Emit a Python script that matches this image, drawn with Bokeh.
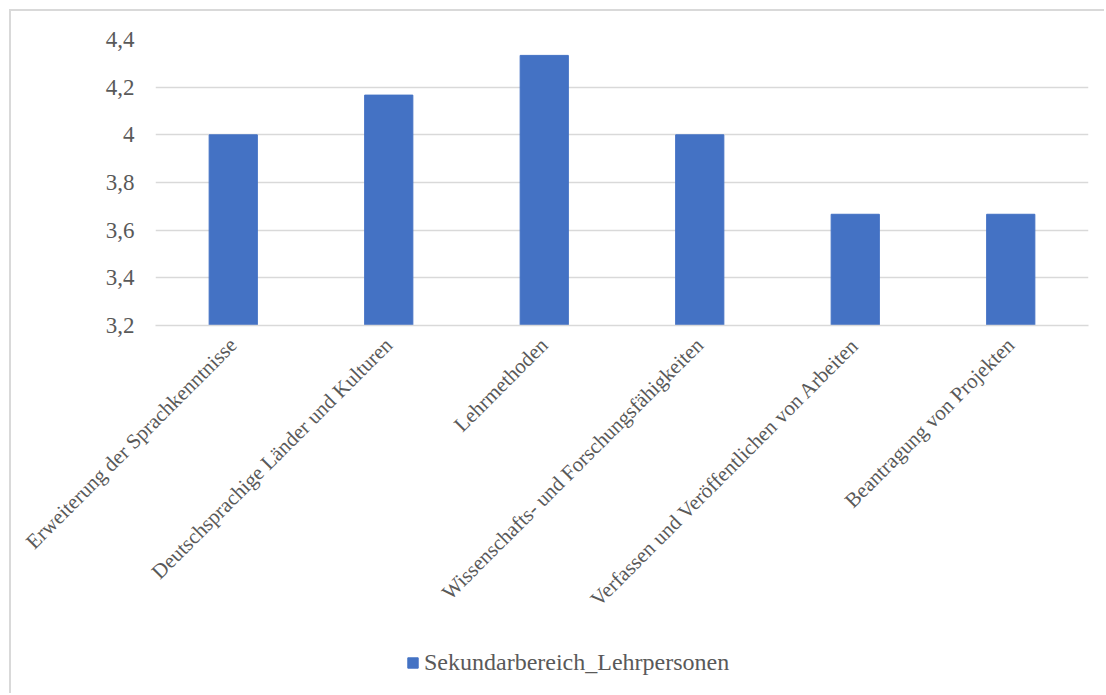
from math import pi
from bokeh.plotting import figure
from bokeh.layouts import column
from bokeh.models import ColumnDataSource, FactorRange, Range1d, FixedTicker, Legend, LegendItem
from bokeh.embed import file_html
from bokeh.resources import INLINE

categories = [
    "Erweiterung der Sprachkenntnisse",
    "Deutschsprachige Länder und Kulturen",
    "Lehrmethoden",
    "Wissenschafts- und Forschungsfähigkeiten",
    "Verfassen und Veröffentlichen von Arbeiten",
    "Beantragung von Projekten",
]
values = [4.0, 4.1667, 4.3333, 4.0, 3.6667, 3.6667]
series_name = "Sekundarbereich_Lehrpersonen"
y_ticks = [3.2, 3.4, 3.6, 3.8, 4.0, 4.2, 4.4]
y_tick_labels = ["3,2", "3,4", "3,6", "3,8", "4", "4,2", "4,4"]

FONT = "Liberation Serif"
TXT = "#595959"
GRID = "#d9d9d9"
BAR = "#4472C4"

src = ColumnDataSource(dict(cat=categories, val=values))

p = figure(
    width=1095, height=630,
    x_range=FactorRange(*categories, range_padding=0),
    y_range=Range1d(y_ticks[0], y_ticks[-1]),
    output_backend="svg", toolbar_location=None,
    min_border_left=144, min_border_right=18, min_border_top=28, min_border_bottom=316,
)
p.margin = (9, 0, 0, 9)
p.styles = {"border-left": "2px solid #d9d9d9", "border-top": "2px solid #d9d9d9"}
p.outline_line_color = None
p.background_fill_color = "white"
p.border_fill_color = "white"

r = p.vbar(x="cat", top="val", bottom=y_ticks[0], width=0.31, source=src,
           fill_color=BAR, line_color=BAR)

p.xgrid.grid_line_color = None
p.ygrid.grid_line_color = GRID
p.ygrid.grid_line_width = 1.5

p.yaxis.ticker = FixedTicker(ticks=y_ticks)
p.yaxis.major_label_overrides = {t: l for t, l in zip(y_ticks, y_tick_labels)}
p.yaxis.axis_line_color = None
p.yaxis.major_tick_line_color = None
p.yaxis.minor_tick_line_color = None
p.yaxis.major_tick_out = 0
p.yaxis.major_tick_in = 0
p.yaxis.major_label_standoff = 21
p.yaxis.major_label_text_font = FONT
p.yaxis.major_label_text_font_size = "23px"
p.yaxis.major_label_text_color = TXT

p.xaxis.axis_line_color = GRID
p.xaxis.axis_line_width = 1.5
p.xaxis.major_tick_line_color = None
p.xaxis.minor_tick_line_color = None
p.xaxis.major_tick_out = 0
p.xaxis.major_tick_in = 0
p.xaxis.major_label_orientation = pi / 4
p.xaxis.major_label_standoff = 16
p.xaxis.major_label_text_font = FONT
p.xaxis.major_label_text_font_size = "21px"
p.xaxis.major_label_text_color = TXT

# legend strip below the chart (its frame is aligned with the chart's frame)
lf = figure(
    width=1095, height=54,
    x_range=Range1d(0, 1), y_range=Range1d(0, 1),
    output_backend="svg", toolbar_location=None,
    x_axis_location=None, y_axis_location=None,
    min_border=0,
)
lf.margin = (0, 0, 0, 9)
lf.styles = {"border-left": "2px solid #d9d9d9"}
lf.outline_line_color = None
lf.xgrid.grid_line_color = None
lf.ygrid.grid_line_color = None
# hidden stand-in renderer (outside the visible range) that supplies the legend swatch style
lr = lf.vbar(x=[-1], top=[-1], bottom=[-2], width=0.1, fill_color=BAR, line_color=BAR)

legend = Legend(
    items=[LegendItem(label=series_name, renderers=[lr])],
    location=(251, 17),
    orientation="horizontal",
    glyph_width=13, glyph_height=13, label_standoff=5,
    padding=0, margin=0, spacing=0,
    label_text_font=FONT, label_text_font_size="24px", label_text_color=TXT,
    border_line_color=None, background_fill_alpha=0,
)
lf.add_layout(legend, "center")

layout = column(p, lf, spacing=0)
open("out.html", "w").write(file_html(layout, INLINE))
